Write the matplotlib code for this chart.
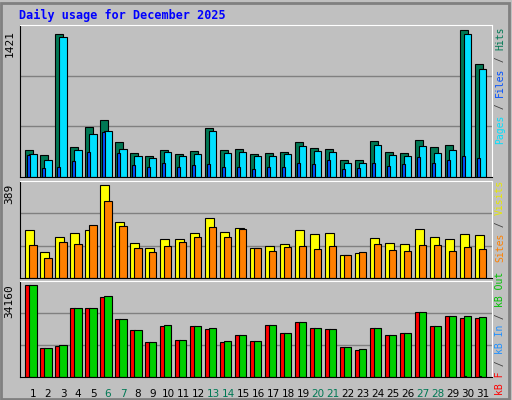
import matplotlib
matplotlib.use("Agg")
import matplotlib.pyplot as plt
import numpy as np

days = list(range(1, 32))
weekend = [6, 7, 13, 14, 20, 21, 27, 28]

hits = [261, 213, 1382, 290, 483, 551, 338, 232, 203, 261, 222, 251, 474, 261, 271, 222,
        232, 242, 338, 280, 271, 164, 164, 348, 242, 232, 358, 290, 309, 1421, 1092]
files = [222, 164, 1353, 261, 416, 445, 271, 203, 184, 242, 203, 222, 445, 232, 242, 203,
         203, 222, 300, 251, 242, 135, 135, 309, 213, 203, 300, 232, 261, 1382, 1044]
pages = [213, 87, 97, 155, 242, 435, 232, 116, 97, 135, 97, 116, 126, 97, 97, 77,
         97, 97, 135, 126, 164, 77, 87, 135, 106, 126, 193, 135, 164, 203, 184]
visits = [199, 110, 173, 186, 199, 389, 233, 148, 127, 165, 161, 186, 249, 194, 207, 127,
          135, 140, 199, 182, 186, 97, 106, 169, 148, 140, 203, 173, 161, 182, 178]
sites = [139, 85, 152, 144, 220, 321, 216, 127, 110, 135, 152, 173, 211, 173, 203, 127,
         114, 131, 135, 123, 135, 97, 110, 144, 118, 114, 139, 139, 114, 131, 123]
kb_f = [34160, 10880, 11630, 25500, 25500, 29630, 21380, 17250, 13130, 18750, 13880, 18750,
        17630, 13130, 15750, 13500, 19130, 16130, 20250, 18000, 17630, 11250, 10130, 18000,
        15750, 16130, 24000, 18750, 22500, 21750, 21750]
kb_out = [34160, 10880, 12000, 25500, 25500, 30000, 21380, 17250, 13130, 19130, 13880, 18750,
          18000, 13500, 15750, 13500, 19130, 16130, 20250, 18000, 17630, 11250, 10500, 18000,
          15750, 16130, 24000, 18750, 22500, 22500, 22130]
kb_in = [0] * 29 + [300, 300]

W, H = 512, 400
fig = plt.figure(figsize=(W / 100, H / 100), dpi=100, facecolor="#c0c0c0")
mono = "DejaVu Sans Mono"
XMAX = 472 / 15

fig.add_artist(plt.Rectangle((1 / W, 1 / H), 508 / W, 396 / H, transform=fig.transFigure,
                             fill=False, edgecolor="#808080", lw=2))

def panel(top, bottom):
    ax = fig.add_axes([20 / W, 1 - bottom / H, 472 / W, (bottom - top) / H])
    ax.set_facecolor("#c0c0c0")
    ax.set_xlim(0, XMAX)
    ax.set_xticks([])
    ax.set_yticks([])
    for s in ax.spines.values():
        s.set_color("white")
    ax.spines["bottom"].set_color("black")
    ax.spines["left"].set_color("black")
    return ax

def grid(ax, top):
    ax.set_ylim(0, top)
    for g in (top / 3, 2 * top / 3):
        ax.axhline(g, color="#808080", lw=1, zorder=0)

def ylabel(ax, txt):
    ax.text(-0.012, 0.97, txt, transform=ax.transAxes, rotation=90, ha="right", va="top",
            fontsize=8, family=mono)

x = np.arange(31)
kw = dict(align="edge", edgecolor="black", linewidth=0.8)

ax1 = panel(25, 177)
grid(ax1, 1421 / 0.97)
ax1.bar(x + 0.35, hits, 0.49, color="#007854", **kw)
ax1.bar(x + 0.61, files, 0.49, color="#00e0ff", **kw)
ax1.bar(x + 0.48, pages, 0.17, color="#0050ff", **kw)
ylabel(ax1, "1421")

ax2 = panel(181, 278)
grid(ax2, 389 / 0.96)
ax2.bar(x + 0.35, visits, 0.55, color="#ffff00", **kw)
ax2.bar(x + 0.61, sites, 0.49, color="#ff8000", **kw)
ylabel(ax2, "389")

ax3 = panel(281, 377)
grid(ax3, 34160 / 0.96)
ax3.bar(x + 0.35, kb_f, 0.31, color="#ff0000", **kw)
ax3.bar(x + 0.61, kb_out, 0.49, color="#00d000", **kw)
ax3.bar(x + 0.61, kb_in, 0.1, color="#2090ff", **kw)
ylabel(ax3, "34160")

for d in days:
    ax3.annotate(str(d), (d - 1 + 0.87, 0), xytext=(0, -12), textcoords="offset points",
                 ha="center", va="center", fontsize=7.5, annotation_clip=False,
                 color="#007854" if d in weekend else "black")

fig.text(19 / W, 1 - 15 / H, "Daily usage for December 2025", color="#0000ff",
         fontsize=8.5, fontweight="bold", family=mono, va="center")

def side(ytop, parts, step=5.85):
    y = ytop
    for txt, col in parts:
        fig.text(500 / W, 1 - y / H, txt, rotation=90, ha="center", va="top",
                 color=col, fontsize=7, family=mono)
        y += len(txt) * step

sep = "#404040"
side(27, [("Hits", "#007854"), (" / ", sep), ("Files", "#0050ff"), (" / ", sep), ("Pages", "#00e0ff")])
side(180, [("Visits", "#e8e800"), (" / ", sep), ("Sites", "#ff8000")])
side(272, [("kB Out", "#00c000"), (" / ", sep), ("kB In", "#2090ff"), (" / ", sep), ("kB F", "#ff0000")])

fig.savefig("out.png", dpi=100, facecolor=fig.get_facecolor())
